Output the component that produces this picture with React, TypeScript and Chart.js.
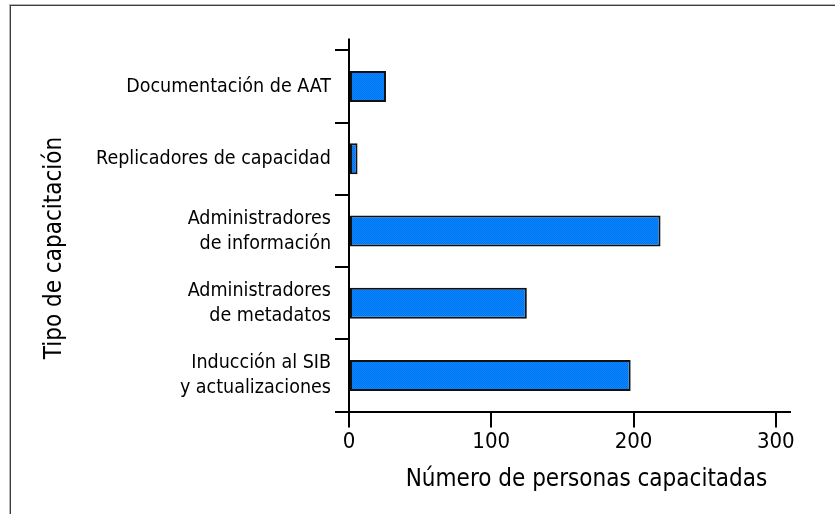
import React, { useEffect, useRef } from "react";
import { Chart, registerables } from "chart.js";

Chart.register(...registerables);

const categories: (string | string[])[] = [
  "Documentación de AAT",
  "Replicadores de capacidad",
  ["Administradores", "de información"],
  ["Administradores", "de metadatos"],
  ["Inducción al SIB", "y actualizaciones"],
];
const personas = [26, 6, 219, 125, 198];
const xTickValues = [0, 100, 200, 300];
const xMax = 310;
const xTitle = "Número de personas capacitadas";
const yTitle = "Tipo de capacitación";

const FONT = "'DejaVu Sans Condensed', 'Liberation Sans Narrow', sans-serif";

function makePattern(): CanvasPattern | string {
  const c = document.createElement("canvas");
  c.width = 2;
  c.height = 2;
  const g = c.getContext("2d");
  if (!g) return "#0080ff";
  g.fillStyle = "#0a86ff";
  g.fillRect(0, 0, 2, 2);
  g.fillStyle = "#0074f0";
  g.fillRect(0, 0, 1, 1);
  g.fillRect(1, 1, 1, 1);
  const p = g.createPattern(c, "repeat");
  return p || "#0080ff";
}

export default function App() {
  const ref = useRef<HTMLCanvasElement | null>(null);

  useEffect(() => {
    if (!ref.current) return;
    const titlesPlugin = {
      id: "titlesAndAxisExt",
      afterDraw(chart: any) {
        const ctx = chart.ctx;
        const area = chart.chartArea;
        const xs = chart.scales.x;
        ctx.save();
        const x0 = xs.getPixelForValue(0);
        ctx.strokeStyle = "#000";
        ctx.lineWidth = 2;
        ctx.beginPath();
        ctx.moveTo(x0, area.top - 12);
        ctx.lineTo(x0, area.top);
        ctx.stroke();
        ctx.fillStyle = "#000";
        ctx.font = `24px ${FONT}`;
        ctx.textAlign = "center";
        ctx.textBaseline = "alphabetic";
        const cx = (area.left + area.right) / 2 + 17;
        ctx.fillText(xTitle, cx, area.bottom + 74);
        const cy = (area.top + area.bottom) / 2 + 17;
        ctx.translate(area.left - 288, cy);
        ctx.rotate(-Math.PI / 2);
        ctx.fillText(yTitle, 0, 0);
        ctx.restore();
      },
    };

    const chart = new Chart(ref.current, {
      type: "bar",
      data: {
        labels: categories,
        datasets: [
          {
            data: personas,
            backgroundColor: makePattern() as any,
            borderColor: "#111",
            borderWidth: 2,
            borderSkipped: false,
            barPercentage: 0.43,
            categoryPercentage: 1,
          },
        ],
      },
      options: {
        indexAxis: "y",
        animation: false,
        responsive: false,
        maintainAspectRatio: false,
        layout: { padding: { top: 50.5, right: 45, left: 0, bottom: 0 } },
        plugins: {
          legend: { display: false },
          tooltip: { enabled: false },
        },
        scales: {
          x: {
            type: "linear",
            min: 0,
            max: xMax,
            afterBuildTicks: (scale: any) => {
              scale.ticks = xTickValues.map((v) => ({ value: v }));
            },
            afterFit: (scale: any) => {
              scale.height = 102.5;
            },
            grid: {
              drawOnChartArea: false,
              drawTicks: true,
              tickLength: 16,
              color: "#000",
              lineWidth: 2,
            },
            border: { color: "#000", width: 2 },
            ticks: {
              color: "#000",
              font: { family: FONT, size: 22 },
              padding: 2,
              maxRotation: 0,
            },
          },
          y: {
            type: "category",
            offset: true,
            afterFit: (scale: any) => {
              scale.width = 349;
            },
            grid: {
              offset: true,
              drawOnChartArea: false,
              drawTicks: true,
              tickLength: 14,
              color: "#000",
              lineWidth: 2,
            },
            border: { color: "#000", width: 2 },
            ticks: {
              color: "#000",
              font: { family: FONT, size: 19.5, lineHeight: 1.28 },
              padding: 4,
              autoSkip: false,
            },
          },
        },
      },
      plugins: [titlesPlugin],
    });
    return () => chart.destroy();
  }, []);

  return (
    <div style={{ position: "fixed", left: 0, top: 0, width: 835, height: 514, background: "#fff" }}>
      <div
        style={{
          position: "absolute",
          left: 9,
          top: 4,
          width: 840,
          height: 520,
          borderLeft: "1px solid #b4b4b4",
          borderTop: "1px solid #b4b4b4",
          boxShadow: "inset 1px 1px 0 #3c3c3c",
        }}
      />
      <canvas ref={ref} width={835} height={514} style={{ position: "absolute", left: 0, top: 0 }} />
    </div>
  );
}
